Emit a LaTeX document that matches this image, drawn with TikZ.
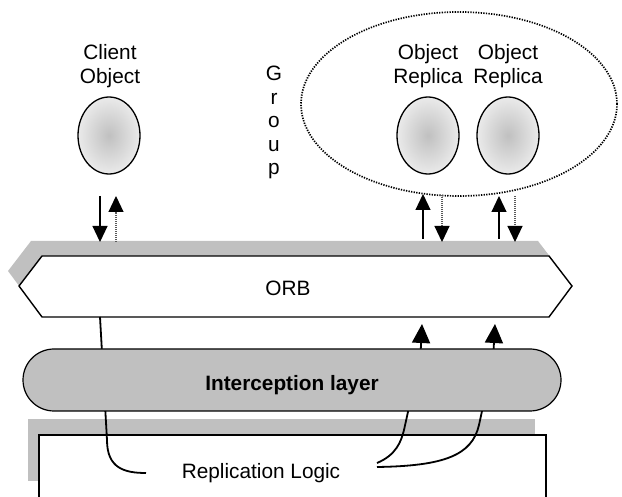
\documentclass[tikz,border=0pt]{standalone}
\usepackage{fontspec}
\setmainfont{Liberation Sans}
\usetikzlibrary{arrows.meta,shapes.geometric,shapes.misc}
\definecolor{panelgray}{RGB}{192,192,192}
\definecolor{ballin}{RGB}{192,192,192}
\definecolor{ballout}{RGB}{234,234,234}
\begin{document}
\begin{tikzpicture}[x=1pt,y=-1pt,
  txt/.style={inner sep=0pt,font=\fontsize{20.8}{24}\selectfont},
  stack/.style={txt,align=center,font=\fontsize{20.8}{23.5}\selectfont},
  obj/.style={ellipse,draw,line width=1.3pt,minimum width=62pt,minimum height=77pt,
    inner sep=0pt,inner color=ballin,outer color=ballout},
  call/.style={line width=1.2pt,-{Triangle[length=16pt,width=15pt]}},
  reply/.style={draw=black!65,line width=1.1pt,dash pattern=on 1pt off 1pt,
    -{Triangle[length=16pt,width=15pt,color=black]}},
  flow/.style={line width=1.8pt},
  flowup/.style={flow,-{Triangle[length=19pt,width=18pt]}},
  shadow/.style={fill=panelgray,draw=none}]
\useasboundingbox (0,0) rectangle (622,497);

% ORB band with its offset shadow
\path[shadow] (8,271) -- (31,241) -- (538,241) -- (561,271) -- (538,302) -- (31,302) -- cycle;
\draw[fill=white,line width=1.4pt] (19,286) -- (42,256) -- (549,256) -- (572,286)
  -- (549,317) -- (42,317) -- cycle;
\node[txt,anchor=base] (orb) at (288,295.5) {ORB};

% replication logic box, open at the bottom, with its shadow
\path[shadow] (28,419) rectangle (535,481);
\fill[white] (39,435) rectangle (546,497);
\draw[line width=1.4pt] (39,497) -- (39,435) -- (546,435) -- (546,497);
\node[txt,anchor=base] (logic) at (261,478.5) {Replication Logic};

% request/reply paths through the interception layer
\coordinate (orbL) at (100,317);
\coordinate (logicL) at (146,473);
\coordinate (logicR1) at (377,463);
\coordinate (logicR2) at (377,467);
\coordinate (orbR1) at (422,324);
\coordinate (orbR2) at (495,324);
\draw[flow] (orbL) -- (107,440) .. controls (107,468) and (124,473) .. (logicL);
\draw[flowup] (logicR1) .. controls (396,455) and (401,442) .. (404,430)
  -- (420.5,355) -- (orbR1);
\draw[flowup] (logicR2) .. controls (445,466) and (472,455) .. (479,425)
  -- (493,360) -- (orbR2);

% interception layer
\node[rounded rectangle,draw,line width=1.2pt,fill=panelgray,minimum width=538pt,
  minimum height=62pt,inner sep=0pt] (icpt) at (292,380) {};
\node[txt,anchor=base,font=\fontsize{20.8}{24}\selectfont\bfseries] (icptlbl) at (292,390.5)
  {Interception layer};

% object group
\draw[line width=1.7pt,dash pattern=on 1.3pt off 1.3pt] (459,104) ellipse [x radius=158pt,y radius=92pt];
\node[stack,anchor=north] (grp) at (274,66) {G\\r\\o\\u\\p};

% objects
\node[obj] (client) at (109,135.5) {};
\node[obj] (rep1) at (428,135.5) {};
\node[obj] (rep2) at (508,135.5) {};
\node[stack,anchor=north,font=\fontsize{20.8}{24}\selectfont] (clientlbl) at (110,44) {Client\\Object};
\node[stack,anchor=north,font=\fontsize{20.8}{24}\selectfont] (rep1lbl) at (428,44) {Object\\Replica};
\node[stack,anchor=north,font=\fontsize{20.8}{24}\selectfont] (rep2lbl) at (508,44) {Object\\Replica};

% calls and replies between objects and the ORB
\coordinate (cA) at (100,196); \coordinate (cB) at (100,242);
\coordinate (cC) at (116,242); \coordinate (cD) at (116,196);
\coordinate (r1A) at (423,239); \coordinate (r1B) at (423,194);
\coordinate (r1C) at (442,195); \coordinate (r1D) at (442,242);
\coordinate (r2A) at (499,239); \coordinate (r2B) at (499,196);
\coordinate (r2C) at (515,196); \coordinate (r2D) at (515,242);
\draw[call] (cA) -- (cB);
\draw[reply] (cC) -- (cD);
\draw[call] (r1A) -- (r1B);
\draw[reply] (r1C) -- (r1D);
\draw[call] (r2A) -- (r2B);
\draw[reply] (r2C) -- (r2D);
\end{tikzpicture}
\end{document}
